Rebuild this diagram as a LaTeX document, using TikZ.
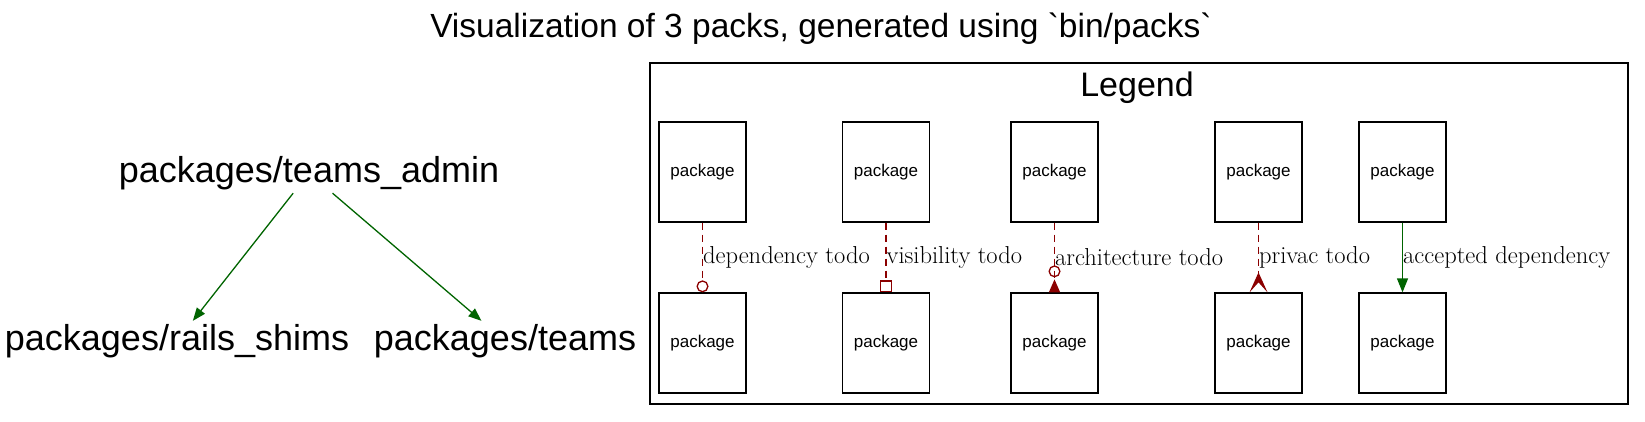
\documentclass[tikz,border=0pt]{standalone}
\usepackage{fontspec}
\setsansfont{Liberation Sans}[Ligatures=TeXOff]
\usetikzlibrary{arrows.meta}
\definecolor{okgreen}{HTML}{006400}
\definecolor{todored}{HTML}{8B0000}

\begin{document}
\begin{tikzpicture}[x=1pt, y=-1pt,
    pack/.style={font=\sffamily\fontsize{36}{43}\selectfont, inner sep=0pt, minimum height=40pt},
    legendbox/.style={draw, line width=1.3pt, minimum width=87pt, minimum height=100pt, inner sep=0pt, font=\sffamily\fontsize{17}{20}\selectfont},
    edgelabel/.style={right, inner sep=0pt, text=black, font=\fontsize{24.5}{29}\selectfont},
    todo/.style={todored, line width=1.3pt, dash pattern=on 7pt off 5pt},
    accepted/.style={okgreen, line width=1.3pt}]
    \useasboundingbox (0,0) rectangle (1645,421);

    % Title
    \node[font=\sffamily\fontsize{33.5}{40}\selectfont, anchor=base] (title) at (821,37) {Visualization of 3 packs, generated using `bin/packs`};

    % Packs
    \node[pack] (admin) at (309,173) {packages/teams\_admin};
    \node[pack] (shims) at (177,341) {packages/rails\_shims};
    \node[pack] (teams) at (505,341) {packages/teams};

    % Dependencies between the packs
    \draw[accepted, -{Triangle[length=13pt, width=10pt]}] (admin) -- (shims);
    \draw[accepted, -{Triangle[length=13pt, width=10pt]}] (admin) -- (teams);

    % Legend frame
    \node[draw, line width=1.3pt, minimum width=978pt, minimum height=341pt, inner sep=0pt] (legend) at (1139,233.5) {};
    \node[font=\sffamily\fontsize{34}{40}\selectfont, anchor=base] (legendtitle) at (1137,96) {Legend};

    % Legend packages, top row
    \node[legendbox] (d1) at (702.5,172) {package};
    \node[legendbox] (v1) at (886,172) {package};
    \node[legendbox] (a1) at (1054.5,172) {package};
    \node[legendbox] (p1) at (1258.5,172) {package};
    \node[legendbox] (c1) at (1402.5,172) {package};

    % Legend packages, bottom row
    \node[legendbox] (d2) at (702.5,343) {package};
    \node[legendbox] (v2) at (886,343) {package};
    \node[legendbox] (a2) at (1054.5,343) {package};
    \node[legendbox] (p2) at (1258.5,343) {package};
    \node[legendbox] (c2) at (1402.5,343) {package};

    % Legend edges
    \draw[todo, -{Circle[open, length=12pt, width=12pt]}] (d1) -- node[edgelabel] {dependency todo} (d2);
    \draw[todo, -{Square[open, length=12pt, width=12pt]}] (v1) -- node[edgelabel] {visibility todo} (v2);
    \draw[todo, -{Circle[open, length=12pt, width=12pt, sep=2pt] Triangle[reversed, length=13pt, width=11pt]}] (a1) -- node[edgelabel] {architecture todo} (a2);
    \draw[todo, -{Stealth[reversed, length=20pt, width=18pt, inset=10pt]}] (p1) -- node[edgelabel] {privac todo} (p2);
    \draw[accepted, -{Triangle[length=14pt, width=11pt]}] (c1) -- node[edgelabel] {accepted dependency} (c2);
\end{tikzpicture}
\end{document}
